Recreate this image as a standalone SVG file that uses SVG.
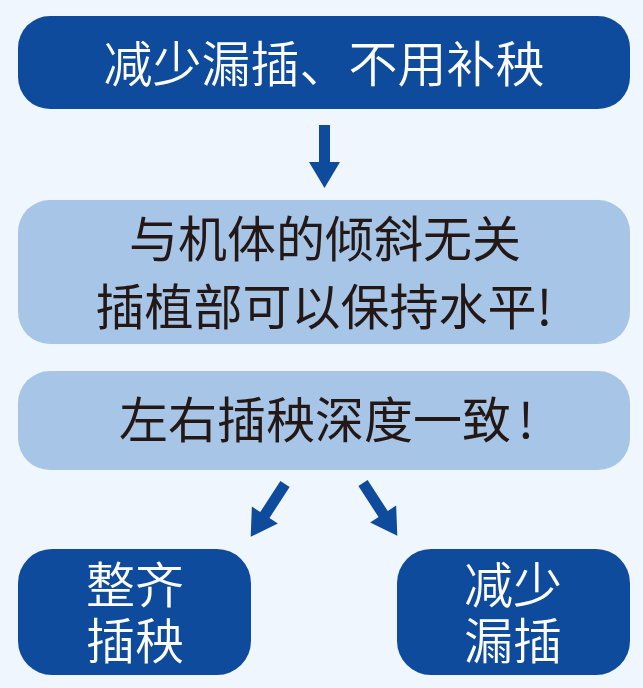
<svg xmlns="http://www.w3.org/2000/svg" width="643" height="688" viewBox="0 0 643 688">
<style>
.dark{fill:#0f4b9c}
.light{fill:#a7c5e6}
.arrow{fill:#0f4b9c}
.wt{fill:#ffffff;font-family:"Noto Sans CJK SC","Noto Sans",sans-serif;font-size:49px;font-weight:350;text-anchor:middle}
.bt{fill:#231815;font-family:"Noto Sans CJK SC","Noto Sans",sans-serif;font-size:49px;font-weight:400;text-anchor:middle}
</style>
<defs>
<path id="arr" d="M-5.5,0 H5.5 V37 H15.5 L0,63 L-15.5,37 H-5.5 Z"/>
</defs>
<rect width="643" height="688" fill="#f0f6fd"/>
<g id="connectors">
<use href="#arr" class="arrow" transform="translate(324.5,125)"/>
<use href="#arr" class="arrow" transform="translate(285,484) rotate(33)"/>
<use href="#arr" class="arrow" transform="translate(363,483) rotate(-33)"/>
</g>
<g id="n1">
<rect class="dark" x="18" y="16" width="612" height="93" rx="32"/>
<text class="wt" x="324" y="82">减少漏插、不用补秧</text>
</g>
<g id="n2">
<rect class="light" x="18" y="200" width="612" height="144" rx="32"/>
<text class="bt"><tspan x="325" y="257">与机体的倾斜无关</tspan><tspan x="324" y="325">插植部可以保持水平!</tspan></text>
</g>
<g id="n3">
<rect class="light" x="18" y="371" width="612" height="99" rx="32"/>
<text class="bt" x="119" y="438" style="text-anchor:start">左右插秧深度一致<tspan dx="7">!</tspan></text>
</g>
<g id="n4">
<rect class="dark" x="18" y="549" width="233" height="126" rx="34"/>
<text class="wt"><tspan x="135" y="603">整齐</tspan><tspan x="135" y="659">插秧</tspan></text>
</g>
<g id="n5">
<rect class="dark" x="397" y="549" width="233" height="126" rx="34"/>
<text class="wt"><tspan x="513" y="603">减少</tspan><tspan x="513" y="659">漏插</tspan></text>
</g>
</svg>
